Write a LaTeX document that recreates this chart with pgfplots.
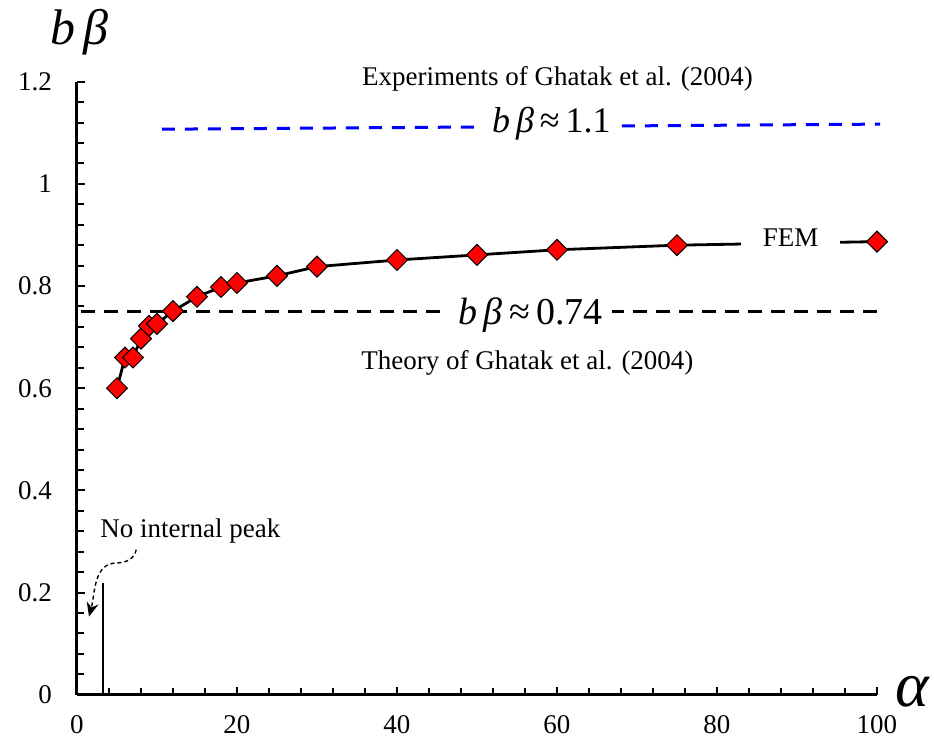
\documentclass[border=0pt]{standalone}
\usepackage{fontspec}
\setmainfont{Liberation Serif}
\newfontfamily\tnr{Liberation Serif}
\usepackage{pgfplots}
\pgfplotsset{compat=1.18}
\usetikzlibrary{arrows.meta}

% FEM results: alpha vs b*beta
\pgfplotstableread{
a    bb
5    0.600
6    0.660
7    0.660
8    0.697
9    0.722
10   0.726
12   0.751
15   0.779
18   0.798
20   0.806
25   0.820
30   0.838
40   0.851
50   0.861
60   0.871
75   0.880
100  0.887
}\fem

\newcommand{\txt}{\tnr\fontsize{13.5}{16}\selectfont}
\newcommand{\bigtxt}{\tnr\fontsize{18}{21}\selectfont}

\begin{document}
\begin{tikzpicture}
\begin{axis}[
  scale only axis, width=400pt, height=306.5pt,
  xmin=0, xmax=100, ymin=0, ymax=1.2,
  axis x line*=bottom, axis y line*=left,
  axis line style={-, line width=1.5pt},
  xtick={0,20,...,100}, ytick={0,0.2,...,1.2},
  minor x tick num=4, minor y tick num=4,
  tick align=inside, major tick length=4pt, minor tick length=3.5pt,
  tick style={black, line width=1pt},
  tick label style={font=\txt},
  /pgf/number format/assume math mode=true,
  xticklabel={\txt\pgfmathprintnumber{\tick}},
  yticklabel={\txt\pgfmathprintnumber{\tick}},
  yticklabel style={xshift=-9pt},
  xticklabel style={yshift=-7pt},
  clip=false,
]
% invisible frame for the page size
\path (axis cs:-9.625,-0.1057) rectangle (axis cs:107.125,1.360);

\addplot[black, line width=1.3pt, dash pattern=on 7pt off 4.5pt] coordinates {(0.5,0.75) (100.4,0.75)};
\addplot[blue, line width=1.5pt, dash pattern=on 6.5pt off 5pt] coordinates {(10.6,1.107) (100.4,1.117)};
\addplot[black, line width=0.8pt] coordinates {(3.25,0) (3.25,0.219)};

\addplot[black, line width=1.4pt, mark=square*, mark size=3.7pt,
  mark options={rotate=45, fill=red, draw=black, line width=0.5pt, solid}]
  table[x=a, y=bb] {\fem};

\node[anchor=base, fill=white, inner xsep=4.5pt, inner ysep=1pt, font=\tnr\fontsize{19}{22}\selectfont]
  at (axis cs:56.7,0.724) {\itshape b\,β\,\upshape≈\,0.74};
\node[anchor=base, fill=white, inner xsep=5pt, inner ysep=1pt, font=\bigtxt]
  at (axis cs:59.3,1.100) {\itshape b\,β\,\upshape≈\,1.1};
\node[anchor=base, font=\txt] at (axis cs:60.06,1.192) {Experiments of Ghatak et al. (2004)};
\node[anchor=base, font=\txt] at (axis cs:56.3,0.637) {Theory of Ghatak et al. (2004)};
\node[anchor=base, fill=white, inner xsep=11pt, inner ysep=1pt, font=\txt]
  at (axis cs:89.2,0.877) {FEM};
\node[anchor=base west, inner sep=0pt, font=\txt] at (axis cs:2.875,0.307) {No internal peak};

\draw[black, line width=0.7pt, dash pattern=on 2pt off 1.5pt, -{Stealth[length=7pt,width=6pt]}]
  (axis cs:7.4,0.284) to[out=-100,in=0] (axis cs:5,0.258) to[out=180,in=75] (axis cs:1.5,0.153);

\node[anchor=base west, inner sep=0pt, font=\tnr\fontsize{25}{28}\selectfont\itshape]
  at (axis cs:-3.375,1.272) {b\,β};
\node[anchor=base west, inner sep=0pt, font=\tnr\fontsize{32}{36}\selectfont\itshape]
  at (axis cs:102.25,-0.0235) {α};
\end{axis}
\end{tikzpicture}
\end{document}
